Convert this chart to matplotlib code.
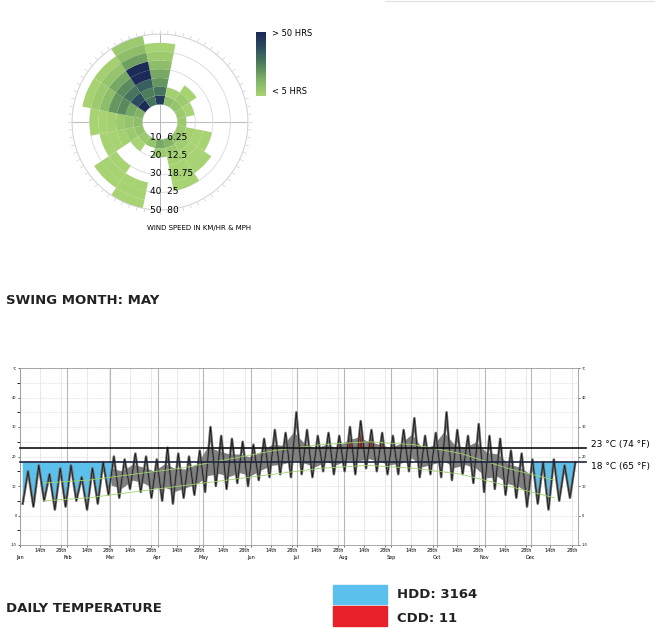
import numpy as np
import matplotlib
matplotlib.use("Agg")
import matplotlib.pyplot as plt
from matplotlib.colors import LinearSegmentedColormap, Normalize
from matplotlib.patches import Rectangle

# ---------------- data ----------------
directions_deg = [0, 22.5, 45, 67.5, 90, 112.5, 135, 157.5, 180, 202.5, 225, 247.5, 270, 292.5, 315, 337.5]
speed_bins = [10, 15, 20, 25, 30, 35, 40, 45]   # bin starts, km/h, 5 wide
# hours per direction per speed bin (0 = none)
wind_hours = [
    [45, 30, 22, 18, 12, 8, 5, 0],    # N
    [12, 6, 0, 0, 0, 0, 0, 0],        # NNE
    [10, 8, 5, 0, 0, 0, 0, 0],        # NE
    [8, 4, 0, 0, 0, 0, 0, 0],         # ENE
    [8, 0, 0, 0, 0, 0, 0, 0],         # E
    [8, 6, 4, 3, 0, 0, 0, 0],         # ESE
    [10, 7, 5, 4, 3, 0, 0, 0],        # SE
    [15, 8, 6, 5, 4, 3, 0, 0],        # SSE
    [18, 8, 0, 0, 0, 0, 0, 0],        # S
    [10, 0, 0, 0, 0, 4, 3, 3],        # SSW
    [8, 5, 0, 0, 4, 3, 3, 0],         # SW
    [10, 8, 6, 5, 4, 0, 0, 0],        # WSW
    [12, 10, 8, 6, 5, 4, 0, 0],       # W
    [15, 18, 25, 22, 12, 8, 5, 0],    # WNW
    [50, 40, 30, 25, 18, 10, 6, 0],   # NW
    [30, 28, 35, 55, 60, 20, 12, 8],  # NNW
]
ring_labels = ["10  6.25", "20  12.5", "30  18.75", "40  25", "50  80"]

month_names = ["Jan", "Feb", "Mar", "Apr", "May", "Jun", "Jul", "Aug", "Sep", "Oct", "Nov", "Dec"]
month_days = [31, 28, 31, 30, 31, 30, 31, 31, 30, 31, 30, 31]
weekly_high = [15, 17, 14, 16, 17, 13, 16, 18, 20, 19, 21, 20, 19, 23, 21, 20, 22, 30, 27, 26, 25, 24,
               26, 29, 28, 35, 29, 27, 28, 27, 30, 32, 29, 28, 27, 29, 33, 27, 28, 35, 29, 27, 31,
               27, 26, 22, 21, 19, 18, 19, 17, 18]
weekly_low = [4, 3, 5, 2, 3, 5, 2, 4, 7, 6, 9, 8, 6, 5, 4, 6, 7, 8, 10, 9, 11, 10,
              12, 13, 14, 13, 14, 13, 15, 14, 15, 14, 16, 15, 14, 14, 15, 13, 14, 13, 12, 14, 11,
              8, 9, 7, 6, 3, 4, 2, 5, 6]
avg_high_monthly = [11, 12, 14, 16, 19, 22, 24, 25, 24, 21, 16, 12]
avg_low_monthly = [5, 6, 8, 10, 12, 14, 16, 17, 16, 14, 10, 6]
hdd_base, cdd_base = 18, 23
hdd_total, cdd_total = 3164, 11

# ---------------- figure ----------------
fig = plt.figure(figsize=(6.55, 6.4), dpi=100)

# wind rose
cmap = LinearSegmentedColormap.from_list("wr", ["#a8d373", "#7fb065", "#4f7f5b", "#2e4f5f", "#1b2a57"])
norm = Normalize(5, 50)
pax = fig.add_axes([72/655, 1-210/640, 176/655, 176/640], projection="polar")
pax.set_theta_zero_location("N")
pax.set_theta_direction(-1)
pax.set_ylim(0, 50)
width = np.deg2rad(22.5)
for d, hrs in zip(directions_deg, wind_hours):
    for b, h in zip(speed_bins, hrs):
        if h > 0:
            pax.bar(np.deg2rad(d), 5, width=width, bottom=b, color=cmap(norm(h)),
                    edgecolor="none", zorder=2)
pax.set_yticks([10, 20, 30, 40, 50])
pax.set_yticklabels([])
pax.set_xticks([])
pax.grid(True, color="#d8d8e0", lw=0.6)
pax.spines["polar"].set_color("#d0d0d8")
pax.spines["polar"].set_linewidth(0.6)
for ang in [0, 90]:
    pax.plot([np.deg2rad(ang), np.deg2rad(ang + 180)], [50, 50], color="#b0b0b0", lw=0.6, zorder=1)
for t in np.arange(0, 360, 5):
    pax.plot([np.deg2rad(t)]*2, [50.5, 52], color="#c0c0c8", lw=0.4, clip_on=False)
for i, lab in enumerate(ring_labels):
    fig.text(150/655, 1-(137 + i*18.3)/640, lab, fontsize=6.5, va="center", ha="left")
fig.text(147/655, 1-228/640, "WIND SPEED IN KM/HR & MPH", fontsize=5, va="center")

# colorbar legend
cax = fig.add_axes([256/655, 1-96/640, 10/655, 64/640])
cax.imshow(np.linspace(50, 5, 50).reshape(-1, 1), aspect="auto", cmap=cmap, norm=norm)
cax.set_xticks([]); cax.set_yticks([])
for s in cax.spines.values():
    s.set_visible(False)
fig.text(272/655, 1-34/640, "> 50 HRS", fontsize=6, va="center")
fig.text(272/655, 1-91/640, "< 5 HRS", fontsize=6, va="center")

fig.text(6/655, 1-300/640, "SWING MONTH: MAY", fontsize=9.5, fontweight="bold", va="center", color="#222222")
fig.text(6/655, 1-609/640, "DAILY TEMPERATURE", fontsize=9.5, fontweight="bold", va="center", color="#222222")

# temperature chart
ax = fig.add_axes([20/655, 1-545/640, 558/655, 177/640])
n = len(weekly_high)
pos = (np.arange(n) + 0.5) * 365 / n
ax.set_xlim(0, 365); ax.set_ylim(-10, 50)

month_start = np.concatenate([[0], np.cumsum(month_days)[:-1]])
mid = month_start + np.array(month_days)/2
ax.plot(mid, avg_high_monthly, color="#9ed36a", lw=0.6, zorder=5)
ax.plot(mid, avg_low_monthly, color="#9ed36a", lw=0.6, zorder=5)

hi = np.array(weekly_high); lo = np.array(weekly_low)
xs = np.empty(2*n); ys = np.empty(2*n)
xs[0::2] = pos - 365/n/4; xs[1::2] = pos + 365/n/4
ys[0::2] = lo; ys[1::2] = hi

hdd_mask = (xs < 60) | (xs >= 334)
ax.fill_between(xs, ys, hdd_base, where=hdd_mask & (ys < hdd_base), interpolate=True,
                color="#5bc0eb", zorder=2, lw=0)
warm = ~((pos < 58) | (pos > 336))
ax.fill_between(pos, np.where(warm, lo + (hi - lo) * 0.25, np.nan), np.where(warm, hi - (hi - lo) * 0.3, np.nan),
                color="#808080", zorder=3, lw=0)
ax.fill_between(xs, ys, cdd_base, where=(ys > cdd_base) & (xs > 205) & (xs < 250),
                interpolate=True, color="#a01818", zorder=4, lw=0)
ax.plot(xs, ys, color="#6a6a6a", lw=1.8, zorder=4)
ax.plot(xs, ys, color="#111111", lw=0.5, zorder=4)

for y in [cdd_base, hdd_base]:
    ax.plot([0, 370], [y, y], color="#111111" if y == cdd_base else "#1c2340", lw=1.2, clip_on=False, zorder=6)
fig.text(591/655, 1-445/640, "23 °C (74 °F)", fontsize=6.5, va="center")
fig.text(591/655, 1-467/640, "18 °C (65 °F)", fontsize=6.5, va="center")

ax.set_yticks([-10, 0, 10, 20, 30, 40, 50])
ax.set_yticklabels(["-10", "0", "10", "20", "30", "40", "°C"], fontsize=2.5)
ax.tick_params(axis="y", length=1.5, pad=1, right=True, labelright=True, width=0.4)
ax.set_yticks(np.arange(-10, 51, 5), minor=True)
ax.grid(True, which="both", axis="y", color="#c8c8c8", ls=":", lw=0.5)
minor_x = []
for ms in month_start:
    minor_x += [ms + 13, ms + 27]
ax.set_xticks(month_start)
ax.set_xticklabels(month_names, fontsize=3.5)
ax.set_xticks(minor_x, minor=True)
ax.set_xticklabels(["14th", "28th"] * 12, minor=True, fontsize=3.5)
ax.tick_params(axis="x", which="major", length=1.5, pad=6, width=0.4)
ax.tick_params(axis="x", which="minor", length=1.5, pad=1, width=0.4)
for m in month_start:
    ax.axvline(m, color="#b8b8b8", lw=0.8, zorder=1)
for m in minor_x:
    ax.axvline(m, color="#d0d0d0", lw=0.5, ls=(0, (2, 1)), zorder=1)
for s in ax.spines.values():
    s.set_color("#999999"); s.set_linewidth(0.6)

# HDD / CDD legend
fig.patches.append(Rectangle((333/655, 1-604/640), 54/655, 19/640, transform=fig.transFigure, color="#5bc0eb"))
fig.patches.append(Rectangle((333/655, 1-626/640), 54/655, 20/640, transform=fig.transFigure, color="#e8202a"))
fig.text(397/655, 1-595/640, f"HDD: {hdd_total}", fontsize=9.5, fontweight="bold", va="center", color="#222222")
fig.text(397/655, 1-618/640, f"CDD: {cdd_total}", fontsize=9.5, fontweight="bold", va="center", color="#222222")
fig.lines.append(plt.Line2D([385/655, 1], [0.999, 0.999], transform=fig.transFigure, color="#e0e0e0", lw=0.8))

fig.savefig("out.png", dpi=100)
